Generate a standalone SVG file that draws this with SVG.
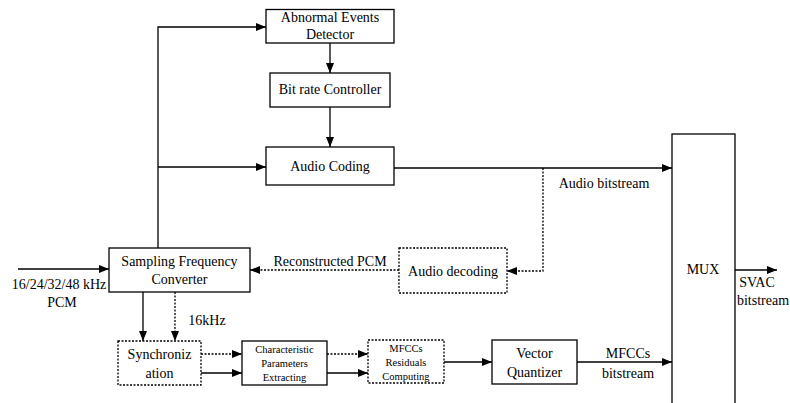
<svg xmlns="http://www.w3.org/2000/svg" width="790" height="403" viewBox="0 0 790 403">
<defs>
<marker id="ah" markerWidth="10" markerHeight="8" refX="10" refY="4" orient="auto" markerUnits="userSpaceOnUse">
<path d="M0,0 L10,4 L0,8 Z" fill="#000"/>
</marker>
<style>
rect{fill:#fff;stroke:#000;stroke-width:1.3}
rect.dot{stroke-dasharray:2,1.5}
.c line,.c path{stroke:#000;stroke-width:1.3;fill:none}
.c .dot{stroke-dasharray:2,1.5}
text{font-family:'Liberation Serif','DejaVu Serif',serif;font-size:14px;fill:#000;text-anchor:middle}
text.s{font-size:10.5px}
</style>
</defs>
<g font-family="Liberation Serif, DejaVu Serif, serif">
<g id="abnormal"><rect x="266" y="9.5" width="128" height="33.5"/><text x="330" y="22">Abnormal Events</text><text x="330" y="39">Detector</text></g>
<g id="bitrate"><rect x="270" y="73" width="120" height="34"/><text x="330" y="94">Bit rate Controller</text></g>
<g id="audiocoding"><rect x="266" y="147" width="128" height="38"/><text x="330" y="171">Audio Coding</text></g>
<g id="mux"><rect x="672" y="134" width="63" height="280"/><text x="703" y="274">MUX</text></g>
<g id="sfc"><rect x="109" y="248" width="141" height="44"/><text x="179.5" y="266">Sampling Frequency</text><text x="179.5" y="284">Converter</text></g>
<g id="decoding"><rect class="dot" x="399" y="248" width="108" height="45"/><text x="453" y="276">Audio decoding</text></g>
<g id="sync"><rect class="dot" x="118" y="341" width="83" height="44"/><text x="159.5" y="359">Synchroniz</text><text x="159.5" y="378">ation</text></g>
<g id="cpe"><rect x="242" y="341" width="85" height="44"/><text class="s" x="284.5" y="353">Characteristic</text><text class="s" x="284.5" y="367">Parameters</text><text class="s" x="284.5" y="381">Extracting</text></g>
<g id="mfccres"><rect class="dot" x="368" y="340" width="76" height="43"/><text class="s" x="406" y="352">MFCCs</text><text class="s" x="406" y="366">Residuals</text><text class="s" x="406" y="380">Computing</text></g>
<g id="vq"><rect x="492" y="340" width="85" height="44"/><text x="534.5" y="358">Vector</text><text x="534.5" y="377">Quantizer</text></g>
<g id="connectors" class="c">
<path d="M158,248 V27 H266" marker-end="url(#ah)"/>
<line x1="158" y1="167" x2="266" y2="167" marker-end="url(#ah)"/>
<line x1="330" y1="43" x2="330" y2="73" marker-end="url(#ah)"/>
<line x1="330" y1="107" x2="330" y2="147" marker-end="url(#ah)"/>
<line x1="394" y1="168" x2="672" y2="168" marker-end="url(#ah)"/>
<path class="dot" d="M543,168 V271 H507" marker-end="url(#ah)"/>
<line class="dot" x1="399" y1="270" x2="250" y2="270" marker-end="url(#ah)"/>
<line x1="18" y1="269" x2="109" y2="269" marker-end="url(#ah)"/>
<line x1="143" y1="292" x2="143" y2="341" marker-end="url(#ah)"/>
<line class="dot" x1="175" y1="292" x2="175" y2="341" marker-end="url(#ah)"/>
<line class="dot" x1="201" y1="354" x2="242" y2="354" marker-end="url(#ah)"/>
<line x1="201" y1="373" x2="242" y2="373" marker-end="url(#ah)"/>
<line class="dot" x1="327" y1="354" x2="368" y2="354" marker-end="url(#ah)"/>
<line x1="327" y1="373" x2="368" y2="373" marker-end="url(#ah)"/>
<line x1="444" y1="362" x2="492" y2="362" marker-end="url(#ah)"/>
<line x1="577" y1="362" x2="672" y2="362" marker-end="url(#ah)"/>
<line x1="735" y1="270" x2="777" y2="270" marker-end="url(#ah)"/>
</g>
<g id="labels">
<text x="604" y="188">Audio bitstream</text>
<text x="330" y="266">Reconstructed PCM</text>
<text x="59" y="289">16/24/32/48 kHz</text>
<text x="62" y="307">PCM</text>
<text x="207" y="325">16kHz</text>
<text x="628" y="358">MFCCs</text>
<text x="628" y="378">bitstream</text>
<text x="757" y="287">SVAC</text>
<text x="763" y="305">bitstream</text>
</g>
</g>
</svg>
